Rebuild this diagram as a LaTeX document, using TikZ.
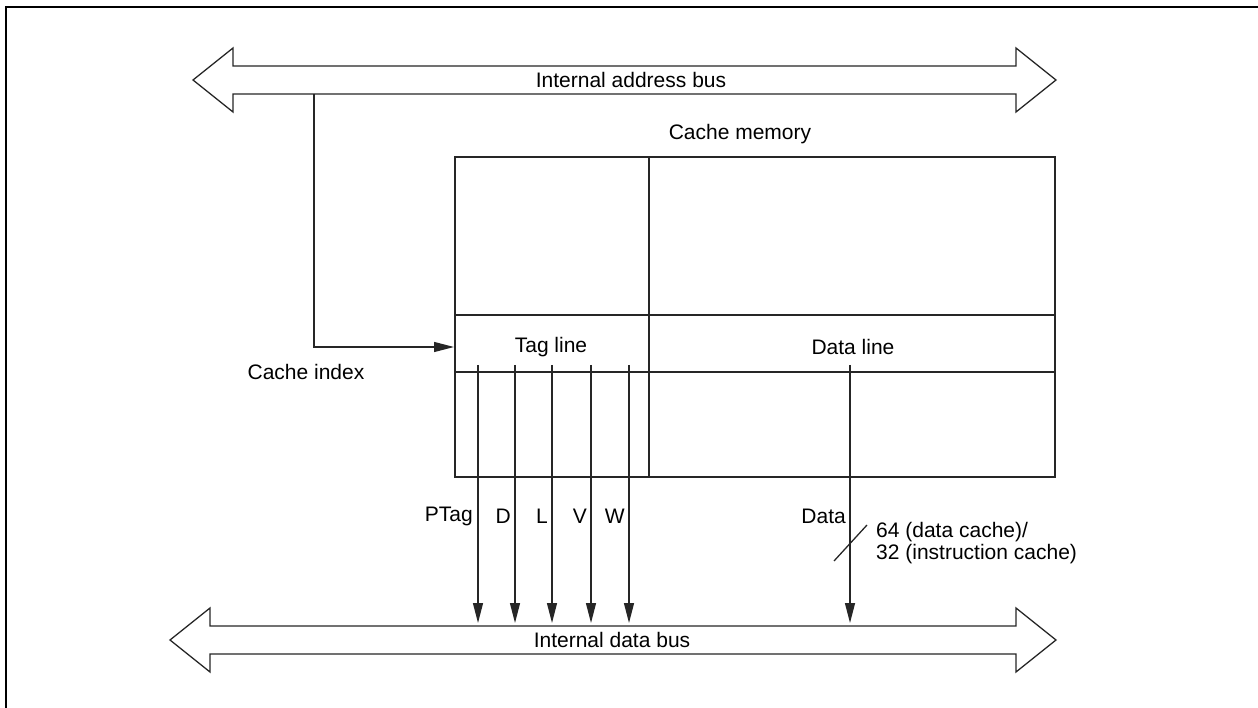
\documentclass[tikz,border=0pt]{standalone}
\usepackage{fontspec}
\setmainfont{Liberation Sans}
\usetikzlibrary{arrows.meta}
\tikzset{
  thin line/.style={line width=1.3pt, draw=black!85},
  thick box/.style={line width=2.6pt, draw=black!85},
  bus/.style={line width=1.3pt, draw=black!85, fill=white, line join=miter},
  sig/.style={thin line, -{Triangle[length=20pt,width=10pt]}},
  lbl/.style={inner sep=0pt, font=\fontsize{21}{25}\selectfont},
}
\begin{document}
\begin{tikzpicture}[x=1pt,y=-1pt]
\useasboundingbox (0,0) rectangle (1258,708);
% frame
\draw[line width=2.5pt] (6,708) -- (6,7) -- (1258,7);
% address bus
\draw[bus] (193,80) -- (233,48) -- (233,66) -- (1016,66) -- (1016,48) -- (1056,80)
  -- (1016,112) -- (1016,94) -- (233,94) -- (233,112) -- cycle;
\node[lbl] (abus) at (631,80) {Internal address bus};
% data bus
\draw[bus] (170,640) -- (210,608) -- (210,626) -- (1016,626) -- (1016,608) -- (1056,640)
  -- (1016,672) -- (1016,654) -- (210,654) -- (210,672) -- cycle;
\node[lbl] (dbus) at (612,640) {Internal data bus};
% cache memory box
\node[lbl] (cmlbl) at (740,134) {Cache memory};
\draw[thin line] (649,157) -- (649,477);
\draw[thin line] (455,315) -- (1055,315);
\draw[thin line] (455,372) -- (1055,372);
\draw[thick box] (455,157) rectangle (1055,477);
\node[lbl] (tag) at (551,347) {Tag line};
\node[lbl] (dl) at (853,347) {Data line};
% cache index
\coordinate (ciTop) at (314,94);
\coordinate (ciBend) at (314,347);
\coordinate (ciEnd) at (454,347);
\draw[sig] (ciTop) -- (ciBend) -- (ciEnd);
\node[lbl] (ci) at (306,372) {Cache index};
% signal arrows
\foreach \x/\n in {478/pt,515/d,552/l,591/v,629/w,850/da}{
  \coordinate (s\n) at (\x,365);
  \coordinate (e\n) at (\x,623);
  \draw[sig] (s\n) -- (e\n);
}
\node[lbl, anchor=east] (lpt) at (473,516) {PTag};
\node[lbl, anchor=east] (ld) at (511,516) {D};
\node[lbl, anchor=east] (ll) at (548,516) {L};
\node[lbl, anchor=east] (lv) at (587,516) {V};
\node[lbl, anchor=east] (lw) at (625,516) {W};
\node[lbl, anchor=east] (lda) at (846,516) {Data};
% width slash
\coordinate (sl1) at (834,561);
\coordinate (sl2) at (867,525);
\draw[thin line] (sl1) -- (sl2);
\node[lbl, anchor=west] (w64) at (876,532) {64 (data cache)/};
\node[lbl, anchor=west] (w32) at (876,554) {32 (instruction cache)};
\end{tikzpicture}
\end{document}
